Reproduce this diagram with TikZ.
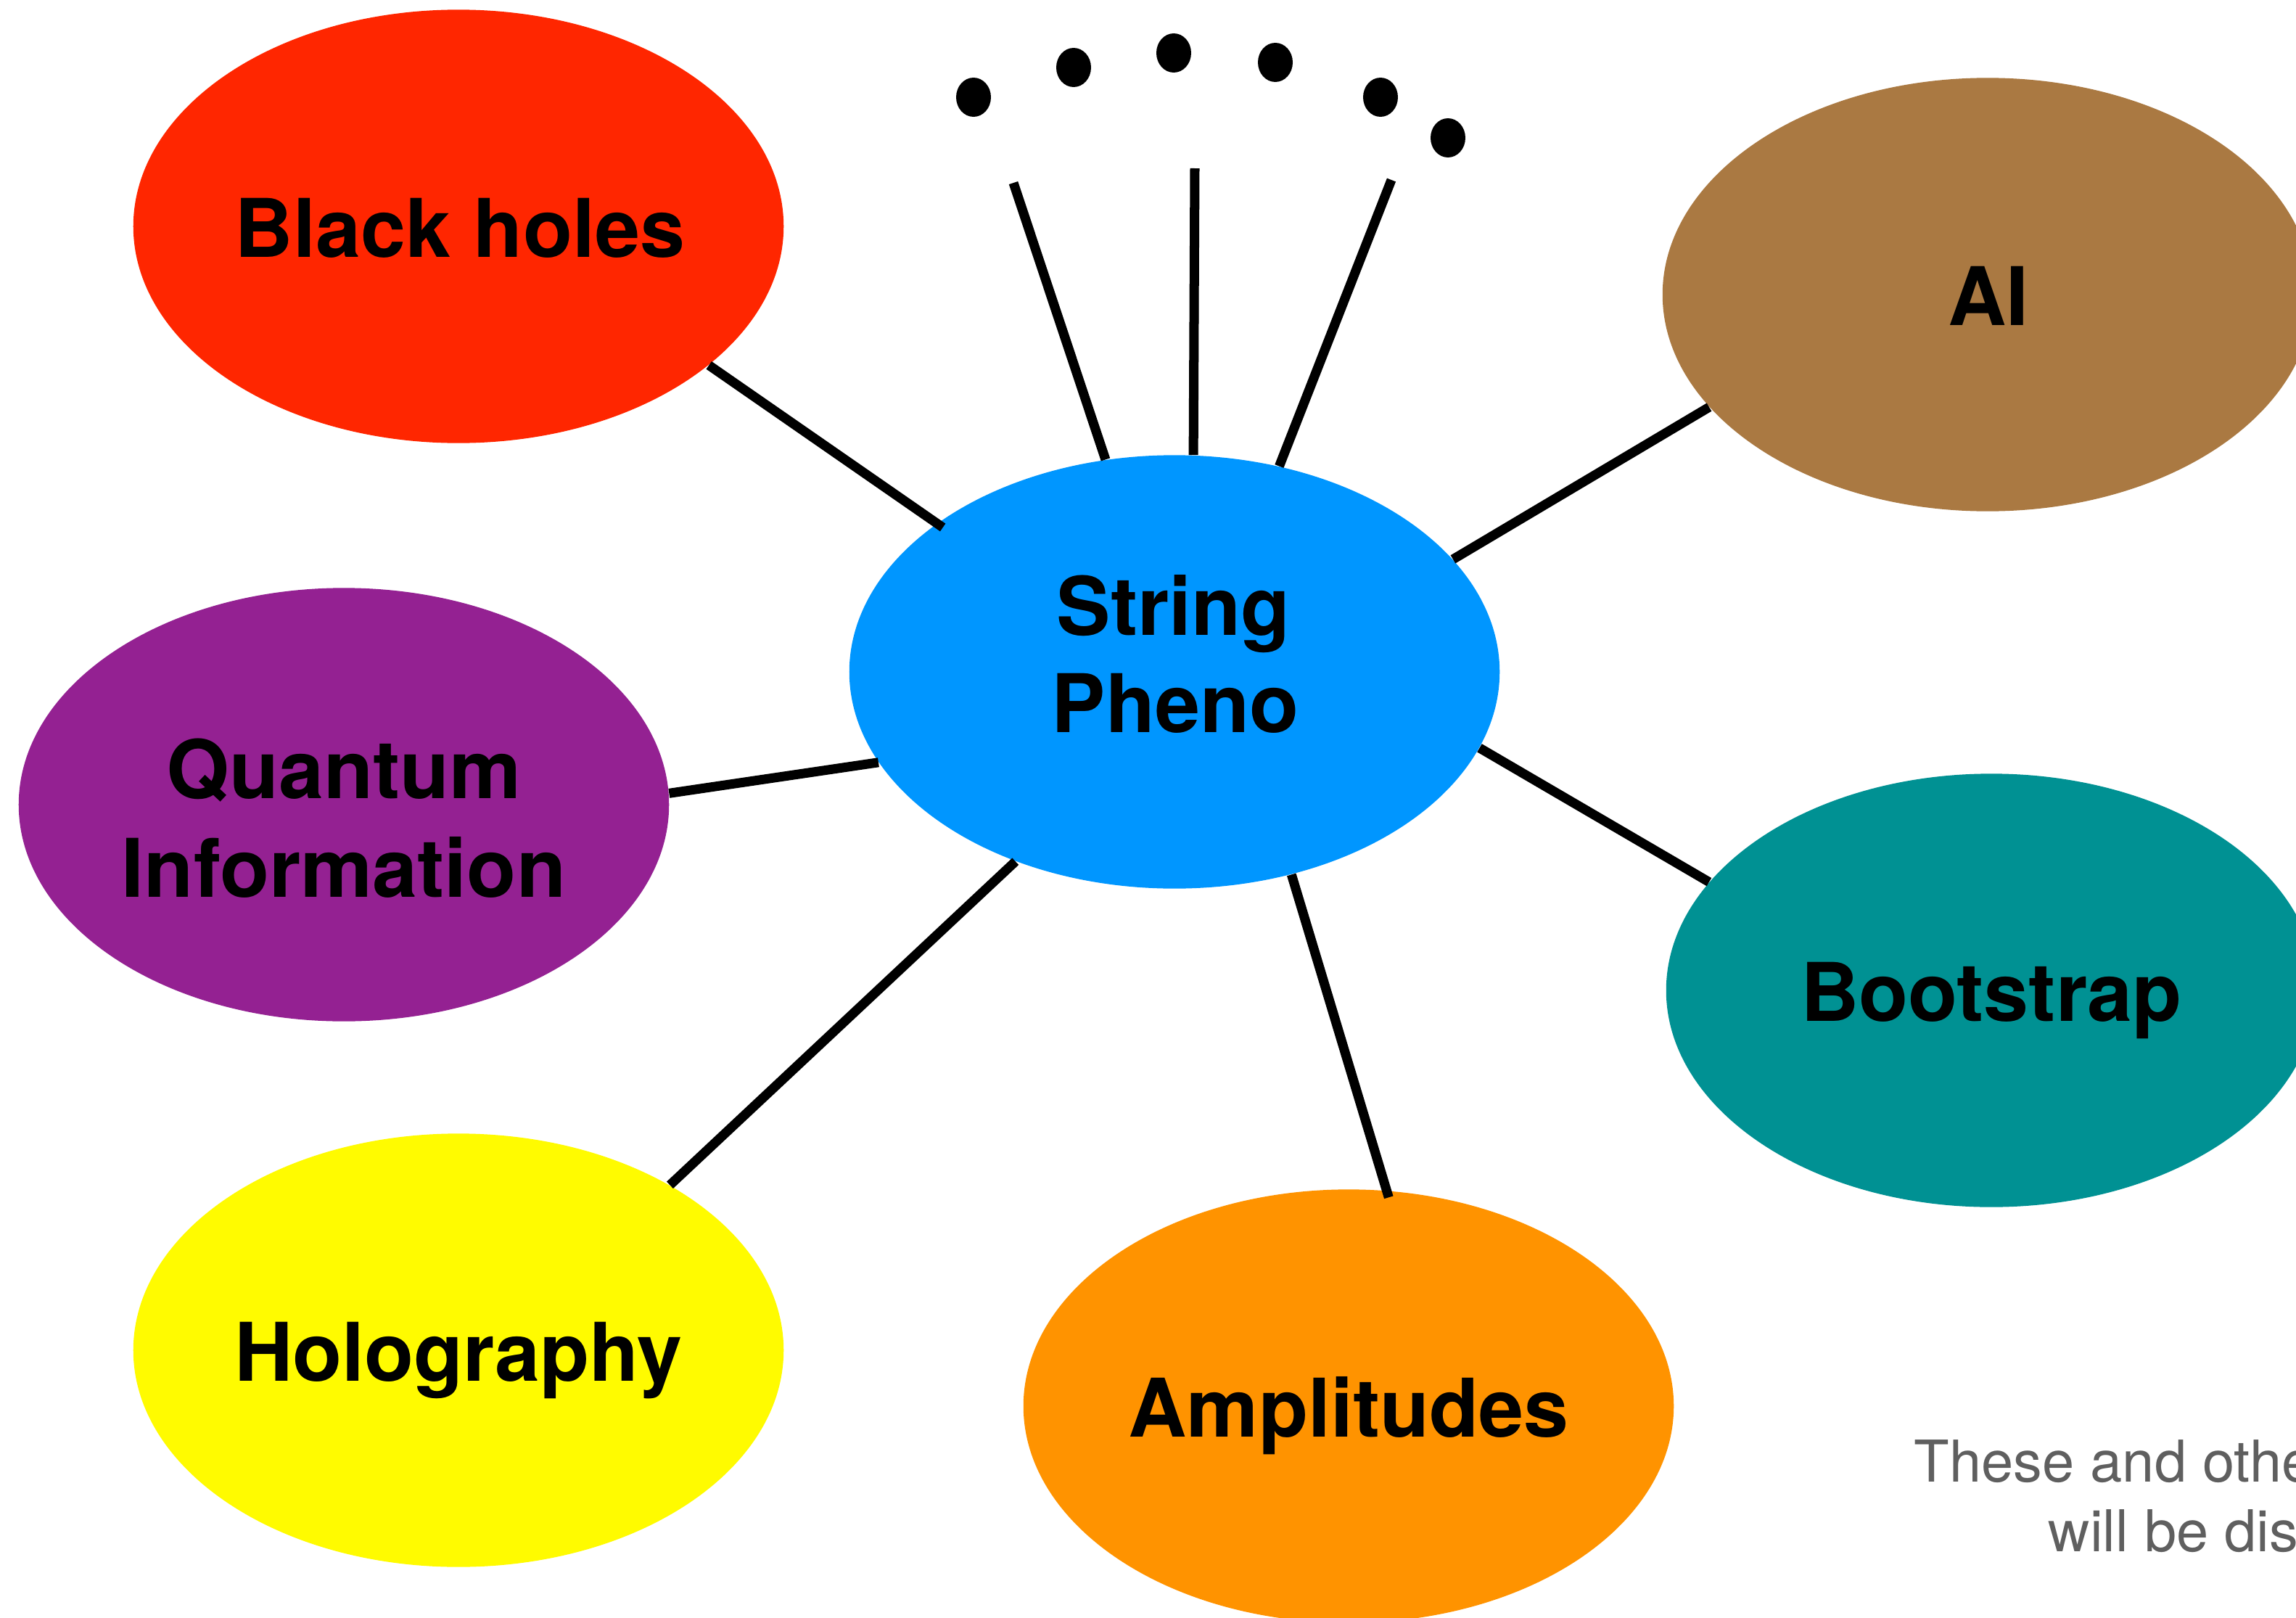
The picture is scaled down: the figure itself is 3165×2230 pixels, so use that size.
\documentclass[tikz,border=0pt]{standalone}
\usepackage{fontspec}
\setmainfont{TeX Gyre Heros}
\usetikzlibrary{shapes.geometric}

\definecolor{bhred}{HTML}{FF2600}
\definecolor{aibrown}{HTML}{AA7942}
\definecolor{spblue}{HTML}{0096FF}
\definecolor{qipurple}{HTML}{942192}
\definecolor{bsteal}{HTML}{009193}
\definecolor{hoyellow}{HTML}{FFFB00}
\definecolor{amorange}{HTML}{FF9300}
\definecolor{notegray}{HTML}{5F5F5F}

\tikzset{
  topic/.style={ellipse, minimum width=8.96cm, minimum height=5.97cm,
    inner sep=0pt},
  topictext/.style={anchor=base, inner sep=0pt, text=black,
    font=\bfseries\fontsize{31.7}{38}\selectfont},
  link/.style={line width=3.7pt, draw=black},
  notetext/.style={anchor=base west, inner sep=0pt, text=notegray,
    font=\fontsize{22.6}{28}\selectfont},
}

\begin{document}
\begin{tikzpicture}[x=0.01cm, y=-0.01cm]
  \useasboundingbox (0,0) rectangle (3165,2230);

  % topic ellipses
  \node[topic, fill=bhred]    (bh) at (632,312)   {};
  \node[topic, fill=aibrown]  (ai) at (2740,406)  {};
  \node[topic, fill=spblue]   (sp) at (1619,926)  {};
  \node[topic, fill=qipurple] (qi) at (474,1109)  {};
  \node[topic, fill=bsteal]   (bs) at (2745,1365) {};
  \node[topic, fill=hoyellow] (ho) at (632,1861)  {};
  \node[topic, fill=amorange] (am) at (1859,1938) {};

  % topic names, placed on their baselines
  \node[topictext] (bhname)  at (634,354)   {Black holes};
  \node[topictext] (ainame)  at (2741,448)  {AI};
  \node[topictext] (spname1) at (1618,875)  {String};
  \node[topictext] (spname2) at (1620,1009) {Pheno};
  \node[topictext] (qiname1) at (474,1100)  {Quantum};
  \node[topictext] (qiname2) at (474,1236)  {Information};
  \node[topictext] (bsname)  at (2745,1407) {Bootstrap};
  \node[topictext] (honame)  at (632,1903)  {Holography};
  \node[topictext] (amname)  at (1859,1980) {Amplitudes};

  % open-ended spokes towards the dots
  \coordinate (tl) at (1397,252);
  \coordinate (tm) at (1647,232);
  \coordinate (tr) at (1918,248);

  % connectors
  \draw[link, shorten >=-0.1cm] (bh.-29) -- (sp.148);
  \draw[link] (sp.108) -- (tl);
  \draw[link] (sp.85)  -- (tm);
  \draw[link] (sp.63)  -- (tr);
  \draw[link] (sp.22)  -- (ai.202);
  \draw[link] (qi.2)   -- (sp.197);
  \draw[link] (sp.-14) -- (bs.159);
  \draw[link] (ho.38)  -- (sp.-130);
  \draw[link, shorten >=-0.1cm] (sp.-60) -- (am.80);

  % arc of dots
  \foreach \px/\py in {1342/134, 1480/93, 1618/73, 1758/86, 1903/134, 1996/190}
    \fill[black] (\px,\py) ellipse [x radius=24, y radius=27];

  % note in the lower right corner
  \node[notetext] (note1) at (2638,2042) {These and other};
  \node[notetext] (note2) at (2823,2138) {will be dis};
\end{tikzpicture}
\end{document}
